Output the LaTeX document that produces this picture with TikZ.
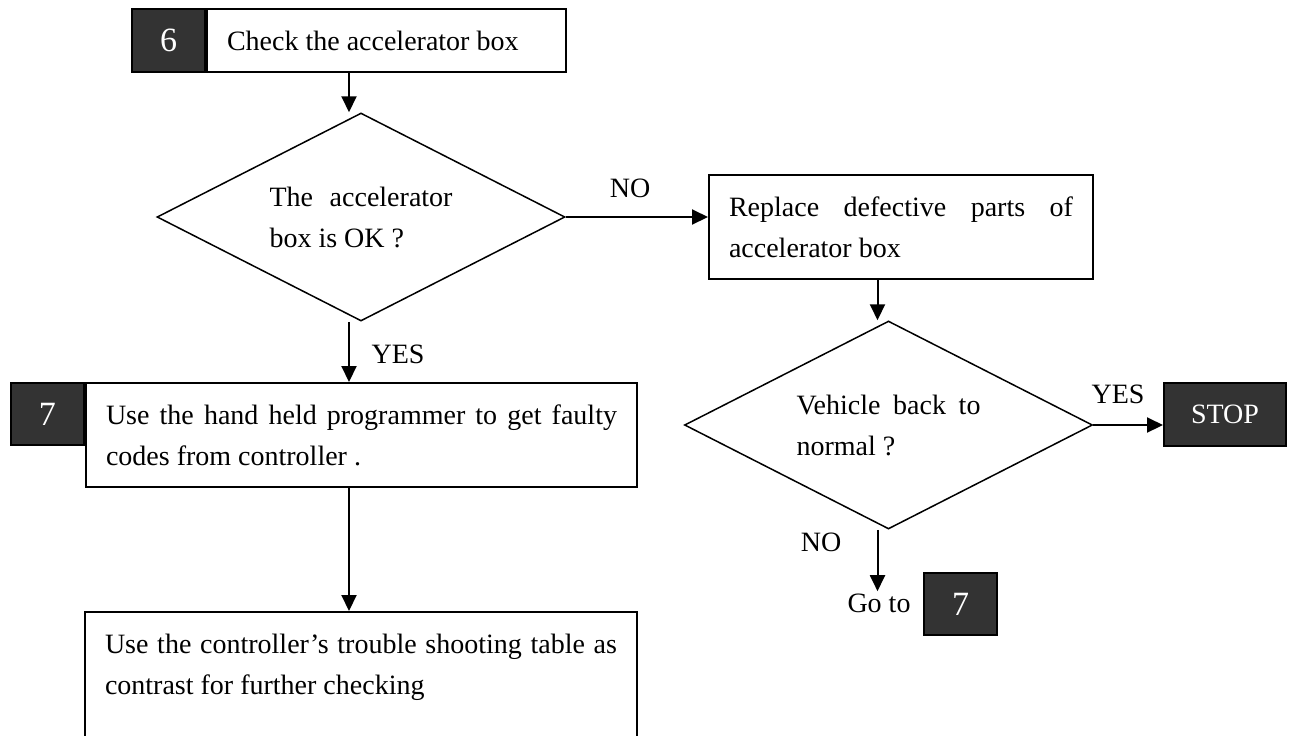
\documentclass[tikz,border=0pt]{standalone}
\usepackage{fontspec}
\setmainfont{Liberation Serif}
\usepackage{tikz}
\usetikzlibrary{positioning,arrows.meta,shapes.geometric}
\definecolor{oscuro}{RGB}{51,51,51}
\newcommand{\cuerpo}{\fontsize{14}{20.5}\selectfont}
\newcommand{\cifra}{\fontsize{17}{20}\selectfont}
\setlength{\parindent}{0pt}
\tolerance=10000
\hbadness=10000
\hyphenpenalty=10000
\exhyphenpenalty=10000

\begin{document}
\begin{tikzpicture}[x=0.5pt, y=-0.5pt,
  caja/.style={draw, line width=1pt, fill=white, font=\cuerpo,
    align=justify, inner xsep=10pt, inner ysep=0pt},
  numero/.style={draw, line width=1pt, fill=oscuro, text=white,
    font=\cifra, minimum width=36.5pt, minimum height=31pt, inner sep=0pt},
  rombo/.style={diamond, draw, line width=0.75pt, shape aspect=2,
    font=\cuerpo, align=justify, text width=#1, inner sep=0pt,
    minimum width=204pt, minimum height=104pt},
  etiq/.style={font=\cuerpo, inner sep=0pt},
  flecha/.style={-{Triangle[length=8pt,width=7.5pt]}, line width=1pt}
]
\useasboundingbox (0,0) rectangle (1294,735);
\coordinate (colizq) at (349,0);
\coordinate (colder) at (877.5,0);
% Paso 6
\node[caja, text width=159.5pt, minimum height=31.5pt] (b6) at (386.5,40.5)
  {Check the accelerator box};
\node[numero, minimum height=31.5pt, left=0pt of b6] (n6) {6};
\node[rombo=91.5pt] (d1) at (361,217) {The accelerator box is OK ?};
\node[etiq] (no1) at (630,188) {NO};
\node[caja, text width=172pt, minimum height=52pt] (rep) at (901,227)
  {Replace defective parts of accelerator box};
\node[rombo=92pt] (d2) at (888.5,425) {Vehicle back to normal ?};
\node[etiq] (si2) at (1118,394) {YES};
\node[draw, line width=1pt, fill=oscuro, text=white, font=\cuerpo,
  minimum width=61pt, minimum height=31.5pt] (stop) at (1225,414.5) {STOP};
\node[etiq] (no2) at (821,542) {NO};
\node[etiq, inner sep=1pt] (irgo) at (879,603) {Go to};
\node[numero] (n7b) at (960.5,604) {7};
% Paso 7
\node[etiq] (si1) at (398,354) {YES};
\node[caja, text width=255.5pt, minimum height=52pt] (b7) at (361.5,435)
  {Use the hand held programmer to get faulty codes from controller .};
\node[numero, anchor=north east] (n7) at (b7.north west) {7};
\node[caja, text width=256pt, minimum height=72.5pt] (b8) at (361,684.5)
  {Use the controller’s trouble shooting table as contrast for further checking\\\mbox{}};
% Flechas
\draw[flecha] (b6.south -| colizq) -- (d1.north -| colizq);
\draw[flecha] (d1.east) -- (d1.east -| rep.west);
\draw[flecha] (rep.south -| colder) -- (d2.north -| colder);
\draw[flecha] (d2.east) -- (d2.east -| stop.west);
\draw[flecha] (d2.south -| colder) -- (irgo.north -| colder);
\draw[flecha] (d1.south -| colizq) -- (b7.north -| colizq);
\draw[flecha] (b7.south -| colizq) -- (b8.north -| colizq);
\end{tikzpicture}
\end{document}
